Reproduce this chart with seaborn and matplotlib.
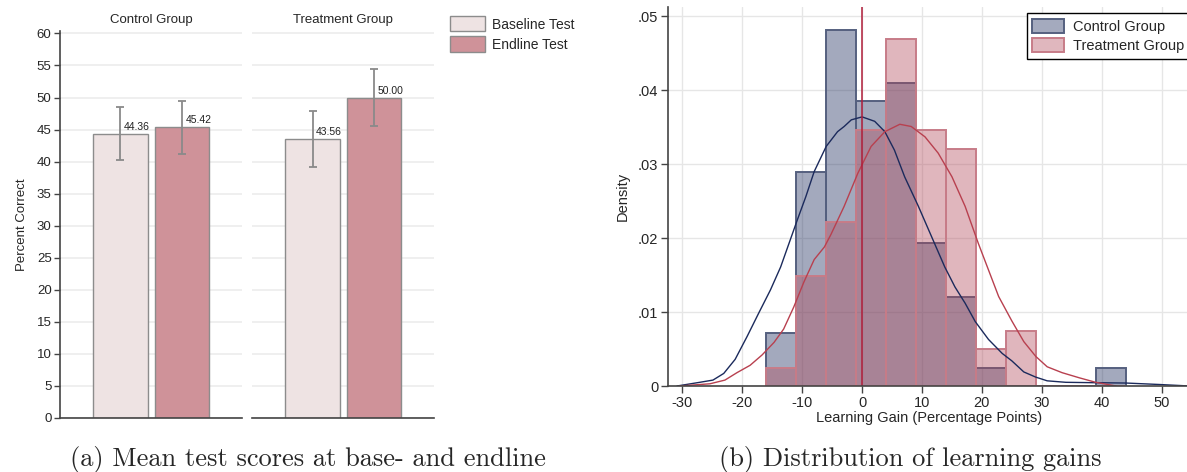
import numpy as np
import pandas as pd
import seaborn as sns
import matplotlib.pyplot as plt
from matplotlib.patches import Patch

# ---- panel (a): mean test scores ----
groups = ['Control Group', 'Treatment Group']
tests = ['Baseline Test', 'Endline Test']
means_control = [44.36, 45.42]
means_treatment = [43.56, 50.00]
ci_low_control = [40.2, 41.2]
ci_high_control = [48.5, 49.5]
ci_low_treatment = [39.1, 45.5]
ci_high_treatment = [47.9, 54.4]

# ---- panel (b): learning gains histogram (counts per 5-pt bin) ----
bin_edges = [-16, -11, -6, -1, 4, 9, 14, 19, 24, 29, 34, 39, 44]
control_bin_mid = [-13.5, -8.5, -3.5, 1.5, 6.5, 11.5, 16.5, 21.5, 41.5]
control_counts = [3, 12, 20, 16, 17, 8, 5, 1, 1]
treat_bin_mid = [-13.5, -8.5, -3.5, 1.5, 6.5, 11.5, 16.5, 21.5, 26.5]
treat_counts = [1, 6, 9, 14, 19, 14, 13, 2, 3]

# kernel density curves
control_kde_x = [-30.9, -27.1, -24.9, -23.1, -21.2, -19.2, -17.3, -15.3, -13.6, -12.2,
                 -10.8, -9.4, -8.0, -6.0, -4.1, -3.0, -1.8, 0.0, 2.1, 3.8, 5.4, 7.1,
                 9.4, 11.6, 13.8, 15.5, 17.2, 18.9, 21.1, 23.4, 25.0, 27.0, 29.0, 30.9,
                 34.0, 38.5, 44.1, 49.7, 54.7]
control_kde_y = [0.0, 0.0005, 0.0008, 0.0017, 0.0036, 0.0067, 0.0098, 0.0130, 0.0161, 0.0193,
                 0.0225, 0.0256, 0.0290, 0.0324, 0.0344, 0.0351, 0.0360, 0.0364, 0.0358, 0.0344,
                 0.0319, 0.0283, 0.0243, 0.0202, 0.0161, 0.0134, 0.0112, 0.0087, 0.0063, 0.0044,
                 0.0034, 0.0019, 0.0012, 0.0007, 0.0005, 0.00045, 0.0004, 0.0002, 0.0]
treat_kde_x = [-30.5, -25.4, -22.9, -20.9, -18.7, -16.7, -14.7, -13.1, -11.4, -9.7, -8.0,
               -6.3, -5.2, -3.0, -0.7, 1.5, 3.8, 6.3, 8.2, 10.5, 12.7, 15.0, 17.2, 19.4,
               21.1, 22.8, 25.0, 27.0, 29.0, 30.9, 33.4, 36.3, 39.0, 42.4]
treat_kde_y = [0.0, 0.0003, 0.0008, 0.0018, 0.0028, 0.0042, 0.0059, 0.0077, 0.0107, 0.0141,
               0.0171, 0.0188, 0.0205, 0.0243, 0.0288, 0.0324, 0.0344, 0.0354, 0.0351, 0.0337,
               0.0315, 0.0283, 0.0243, 0.0193, 0.0157, 0.0121, 0.0088, 0.0060, 0.0040, 0.0026,
               0.0018, 0.0011, 0.0005, 0.0]

sns.set_theme(style='white')
plt.rcParams['font.family'] = ['Liberation Sans', 'DejaVu Sans']
plt.rcParams['axes.unicode_minus'] = False

bar_colors = {'Baseline Test': '#eee3e3', 'Endline Test': '#cf9299'}
bar_edge = '#8c8c8c'
navy = '#1b2a5c'
wine = '#b24a5c'

fig = plt.figure(figsize=(11.87, 4.72), dpi=100)

# ---------------- panel (a) ----------------
panel_data = [
    (means_control, ci_low_control, ci_high_control),
    (means_treatment, ci_low_treatment, ci_high_treatment),
]
lefts = [0.0505, 0.2123]
for i, (grp, (m, lo, hi)) in enumerate(zip(groups, panel_data)):
    ax = fig.add_axes([lefts[i], 0.115, 0.1535, 0.8195])
    df = pd.DataFrame({'test': tests, 'score': m})
    sns.barplot(data=df, x='test', y='score', hue='test', palette=bar_colors,
                saturation=1, width=0.885, edgecolor=bar_edge, linewidth=1.0,
                errorbar=None, legend=False, ax=ax)
    m = np.array(m)
    ax.errorbar([0, 1], m, yerr=[m - np.array(lo), np.array(hi) - m], fmt='none',
                ecolor='#8a8a8a', elinewidth=1.3, capsize=3, capthick=1.3, zorder=5)
    for xi, v in enumerate(m):
        ax.text(xi + 0.06, v + 0.3, f'{v:.2f}', fontsize=7.5, color='#222222',
                ha='left', va='bottom')
    ax.set_xlim(-0.99, 1.99)
    ax.set_ylim(0, 60.4)
    ax.set_yticks(range(0, 61, 5))
    ax.yaxis.grid(True, color='#efefef', linewidth=1.4)
    ax.set_axisbelow(True)
    ax.set_xticks([])
    ax.set_xlabel('')
    ax.set_title(grp, fontsize=9.5, pad=6)
    for s in ['top', 'right']:
        ax.spines[s].set_visible(False)
    ax.spines['bottom'].set_color('#444444')
    ax.spines['bottom'].set_linewidth(1.2)
    if i == 0:
        ax.spines['left'].set_color('#444444')
        ax.spines['left'].set_linewidth(1.2)
        ax.tick_params(axis='y', left=True, length=4, width=1, color='#444444',
                       labelsize=9.5, pad=2)
        ax.set_ylabel('Percent Correct', fontsize=9.5, labelpad=6)
    else:
        ax.spines['left'].set_visible(False)
        ax.set_yticklabels([])
        ax.tick_params(axis='y', left=False)
        ax.set_ylabel('')
        handles = [Patch(facecolor=bar_colors[t], edgecolor=bar_edge, linewidth=1.0)
                   for t in tests]
        ax.legend(handles, tests, loc='upper left', bbox_to_anchor=(1.02, 1.07),
                  frameon=False, fontsize=10, handlelength=2.5, handleheight=1.3,
                  labelspacing=0.35, handletextpad=0.5)

# ---------------- panel (b) ----------------
axb = fig.add_axes([0.5628, 0.1822, 0.44, 0.802])
axb.xaxis.grid(True, color='#e6e6e6', linewidth=1)
axb.yaxis.grid(True, color='#e6e6e6', linewidth=1)
axb.set_axisbelow(True)
sns.histplot(x=control_bin_mid, weights=control_counts, bins=bin_edges, stat='density',
             color=navy, alpha=0.4, edgecolor='#55607f', linewidth=1.4, ax=axb)
sns.histplot(x=treat_bin_mid, weights=treat_counts, bins=bin_edges, stat='density',
             color=wine, alpha=0.4, edgecolor='#c77c88', linewidth=1.4, ax=axb)
sns.lineplot(x=control_kde_x, y=control_kde_y, color=navy, linewidth=1.0, ax=axb)
sns.lineplot(x=treat_kde_x, y=treat_kde_y, color='#b8404f', linewidth=1.0, ax=axb)
axb.axvline(0, color='#b01e3a', linewidth=1.1)

axb.set_xlim(-32.4, 54.8)
axb.set_ylim(0, 0.0512)
axb.set_xticks(range(-30, 51, 10))
axb.set_yticks([0, 0.01, 0.02, 0.03, 0.04, 0.05])
axb.set_yticklabels(['0', '.01', '.02', '.03', '.04', '.05'])
axb.tick_params(axis='both', length=5, width=1, color='#444444', labelsize=10.5,
                bottom=True, left=True, pad=2)
for s in ['top', 'right']:
    axb.spines[s].set_visible(False)
for s in ['left', 'bottom']:
    axb.spines[s].set_color('#444444')
    axb.spines[s].set_linewidth(1.2)
axb.set_xlabel('Learning Gain (Percentage Points)', fontsize=10.5, labelpad=1)
axb.set_ylabel('Density', fontsize=10.5, labelpad=6)

leg_handles = [Patch(facecolor='#a4aabe', edgecolor='#55607f', linewidth=1.4),
               Patch(facecolor='#e0b7be', edgecolor='#c77c88', linewidth=1.4)]
leg = axb.legend(leg_handles, groups, loc='upper right', bbox_to_anchor=(1.0, 0.985),
                 borderaxespad=0, fancybox=False, framealpha=1, edgecolor='black',
                 fontsize=10.5, handlelength=2.2, handleheight=1.1, labelspacing=0.3,
                 handletextpad=0.6, borderpad=0.4)
leg.get_frame().set_linewidth(1.0)

# captions
fig.text(0.2595, 0.027, '(a) Mean test scores at base- and endline', ha='center',
         va='center', fontsize=19, family='cmr10')
fig.text(0.7665, 0.027, '(b) Distribution of learning gains', ha='center',
         va='center', fontsize=19, family='cmr10')

fig.savefig('out.png', dpi=100)
